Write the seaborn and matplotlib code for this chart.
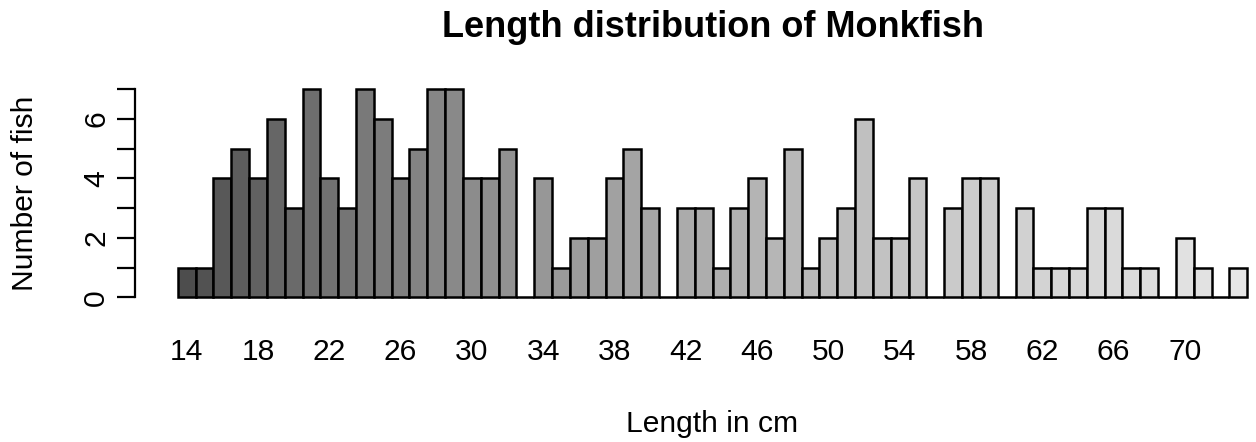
import numpy as np
import matplotlib
matplotlib.use("Agg")
import matplotlib.pyplot as plt
import seaborn as sns

# Length classes (cm) and fish counts per class
length_cm = list(range(14, 74))
counts = [1, 1, 4, 5, 4, 6, 3, 7, 4, 3,
          7, 6, 4, 5, 7, 7, 4, 4, 5, 0,
          4, 1, 2, 2, 4, 5, 3, 0, 3, 3,
          1, 3, 4, 2, 5, 1, 2, 3, 6, 2,
          2, 4, 0, 3, 4, 4, 0, 3, 1, 1,
          1, 3, 3, 1, 1, 0, 2, 1, 0, 1]
tick_labels = [str(v) for v in range(14, 74, 4)]

# grey ramp from dark to light (gamma corrected)
n = len(counts)
start, end, gamma = 0.3, 0.9, 2.2
levels = np.linspace(start ** gamma, end ** gamma, n) ** (1 / gamma)
colors = [(g, g, g) for g in levels]

sns.set_style("white")
plt.rcParams["font.family"] = ["Liberation Sans", "DejaVu Sans"]
plt.rcParams.update({"text.color": "black", "axes.labelcolor": "black",
                     "xtick.color": "black", "ytick.color": "black"})

W, H = 1256, 442
fig = plt.figure(figsize=(W / 100, H / 100), dpi=100)
left, right, top, bottom = 135, 1290, 80.7, 305.6
ax = fig.add_axes([left / W, 1 - bottom / H, (right - left) / W, (bottom - top) / H])

labels = [str(v) for v in length_cm]
sns.barplot(x=labels, y=counts, hue=labels, palette=colors, legend=False,
            width=1, saturation=1, edgecolor="black", linewidth=1.8, ax=ax)

ax.set_xlim(-2.9, n - 1 + 2.9)
ax.set_ylim(-0.28, 7.28)

for s in ["top", "right", "bottom"]:
    ax.spines[s].set_visible(False)
ax.spines["left"].set_bounds(0, 7)
ax.spines["left"].set_linewidth(1.6)
ax.spines["left"].set_color("black")

ax.set_yticks(range(8))
ax.set_yticklabels(["0", "", "2", "", "4", "", "6", ""])
ax.tick_params(axis="y", length=13, width=1.6, color="black", pad=5,
               labelsize=21.6, labelrotation=90, left=True)
for t in ax.get_yticklabels():
    t.set_va("center")

ax.set_xticks(range(0, n, 4))
ax.set_xticklabels(tick_labels)
ax.tick_params(axis="x", length=0, pad=23, labelsize=21.6)

ax.set_xlabel("Length in cm", fontsize=21.6)
ax.xaxis.set_label_coords(0.5, -(432 - bottom) / (bottom - top))
ax.xaxis.label.set_va("baseline")

ax.set_ylabel("Number of fish", fontsize=21.6)
ax.yaxis.label.set_va("center")
ax.yaxis.set_label_coords((25 - left) / (right - left), 0.5)

ax.set_title("Length distribution of Monkfish", fontsize=26, fontweight="bold",
             y=1 + (top - 45) / (bottom - top), va="baseline")

ax.grid(False)
fig.savefig("out.png", dpi=100)
